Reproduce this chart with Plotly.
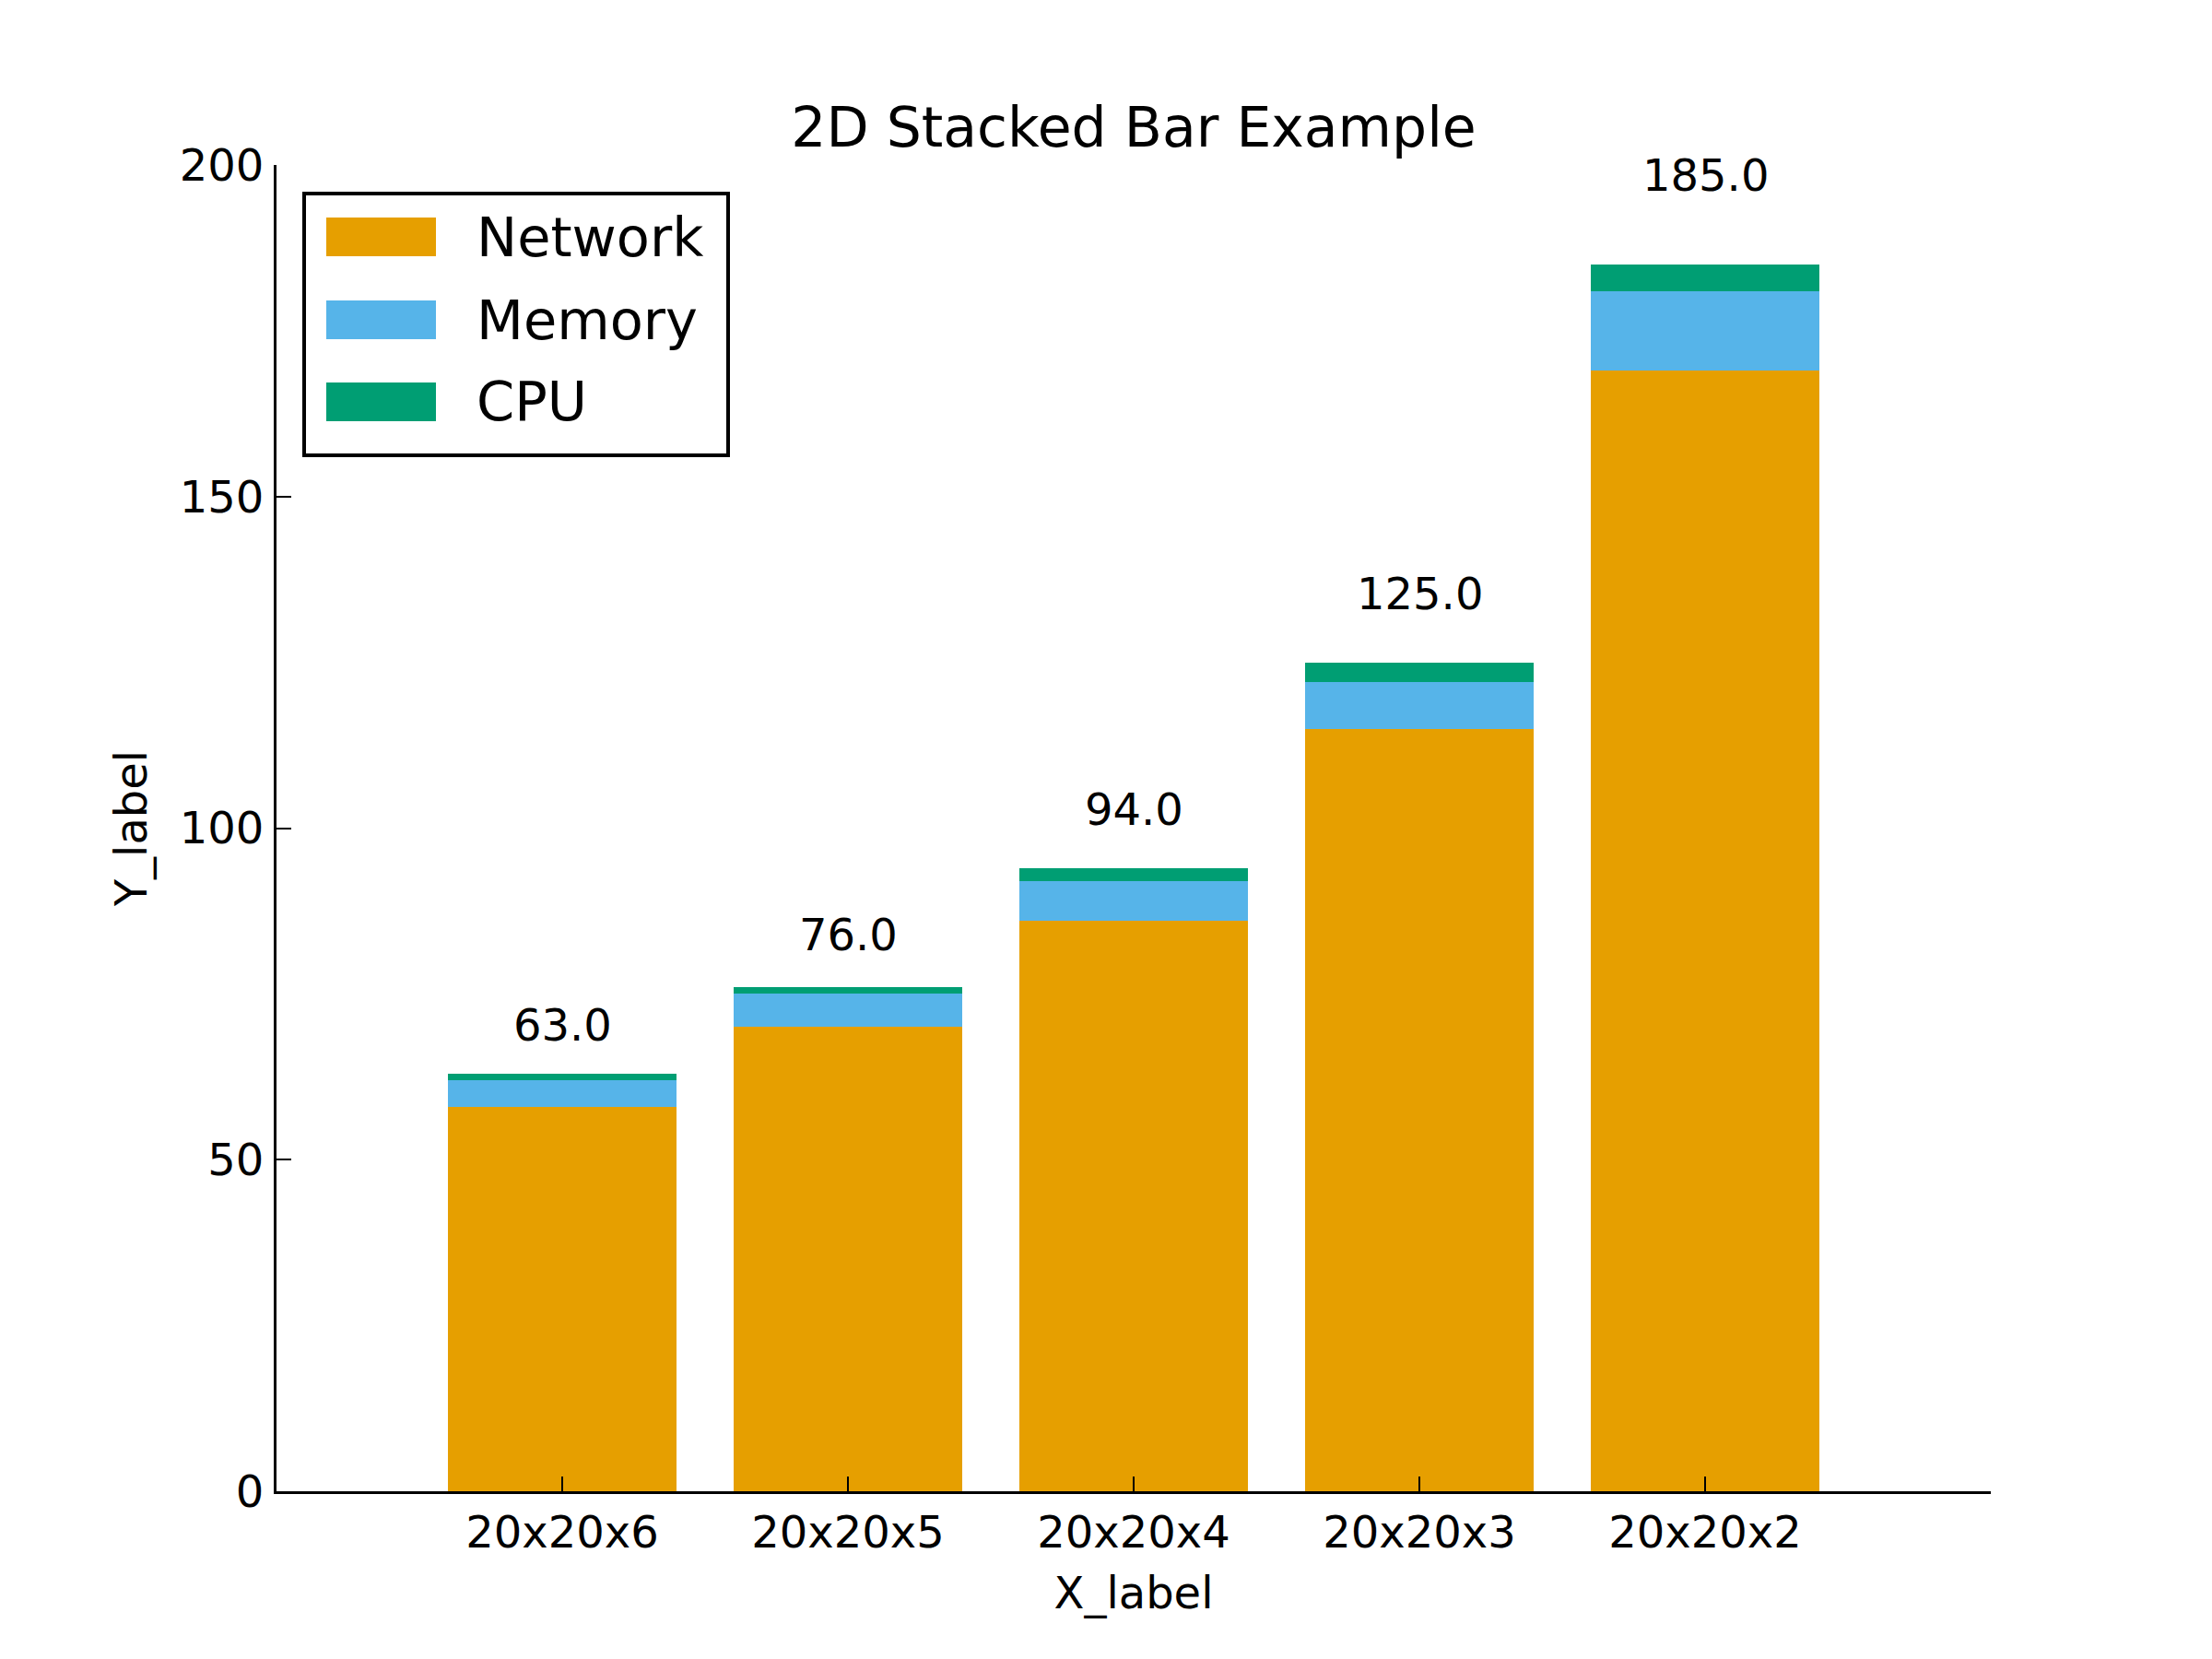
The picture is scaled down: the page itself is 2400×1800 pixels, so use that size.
import plotly.graph_objects as go

categories = ["20x20x6", "20x20x5", "20x20x4", "20x20x3", "20x20x2"]
network = [58, 70, 86, 115, 169]
memory = [4, 5, 6, 7, 12]
cpu = [1, 1, 2, 3, 4]
series_names = ["Network", "Memory", "CPU"]
series_colors = ["#E69F00", "#56B4E9", "#009E73"]
y_ticks = [0, 50, 100, 150, 200]

FONT = "DejaVu Sans"
series_values = [network, memory, cpu]
totals = [sum(v) for v in zip(network, memory, cpu)]

fig = go.Figure()
for name, vals, col in zip(series_names, series_values, series_colors):
    fig.add_trace(go.Bar(x=categories, y=vals, name=name, marker=dict(color=col, line=dict(width=0)),
                         width=0.8, showlegend=False))

# total labels above each bar
for cat, tot in zip(categories, totals):
    fig.add_annotation(x=cat, y=tot * 1.05, text=f"{tot:.1f}", showarrow=False,
                       xref="x", yref="y", xanchor="center", yanchor="bottom",
                       font=dict(family=FONT, size=48, color="black"))

# legend drawn in matplotlib style (wide swatches, framed box)
L, R, T, B = 300, 2160, 179, 1618
def px(xp):
    return (xp - L) / (R - L)
def py(yp):
    return (B - yp) / (B - T)

fig.add_shape(type="rect", xref="paper", yref="paper",
              x0=px(330), x1=px(790), y0=py(494), y1=py(210),
              line=dict(color="black", width=4), fillcolor="white", layer="above")
row_centers = [257, 347, 436]
for name, col, yc in zip(series_names, series_colors, row_centers):
    fig.add_shape(type="rect", xref="paper", yref="paper",
                  x0=px(354), x1=px(473), y0=py(yc + 21), y1=py(yc - 21),
                  line=dict(width=0), fillcolor=col, layer="above")
    fig.add_annotation(x=px(515), y=py(yc), xref="paper", yref="paper", text=name,
                       showarrow=False, xanchor="left", yanchor="middle",
                       font=dict(family=FONT, size=59, color="black"))

fig.update_layout(
    width=2400, height=1800,
    margin=dict(l=L, r=2400 - R, t=T, b=1800 - B, pad=0),
    barmode="stack",
    plot_bgcolor="white", paper_bgcolor="white",
    font=dict(family=FONT, color="black"),
    title=dict(text="2D Stacked Bar Example", x=0.5, xref="paper", xanchor="center",
               y=1 - 138 / 1800, yref="container", yanchor="middle",
               font=dict(family=FONT, size=60, color="black")),
)
fig.update_xaxes(
    type="category", range=[-1, 5],
    showline=True, linecolor="black", linewidth=3,
    ticks="inside", ticklen=16, tickwidth=1.5, tickcolor="black",
    showgrid=False, zeroline=False,
    tickfont=dict(family=FONT, size=48, color="black"),
    ticklabelstandoff=0,
    title=dict(text="X_label", font=dict(family=FONT, size=48, color="black"), standoff=23),
)
fig.update_yaxes(
    range=[0, 200], tickvals=y_ticks, ticktext=[str(v) for v in y_ticks],
    showline=True, linecolor="black", linewidth=3,
    ticks="inside", ticklen=16, tickwidth=1.5, tickcolor="black",
    showgrid=False, zeroline=False,
    tickfont=dict(family=FONT, size=48, color="black"),
    ticklabelstandoff=1,
    title=dict(text="Y_label", font=dict(family=FONT, size=48, color="black"), standoff=20),
)

fig.write_html("out.html")
